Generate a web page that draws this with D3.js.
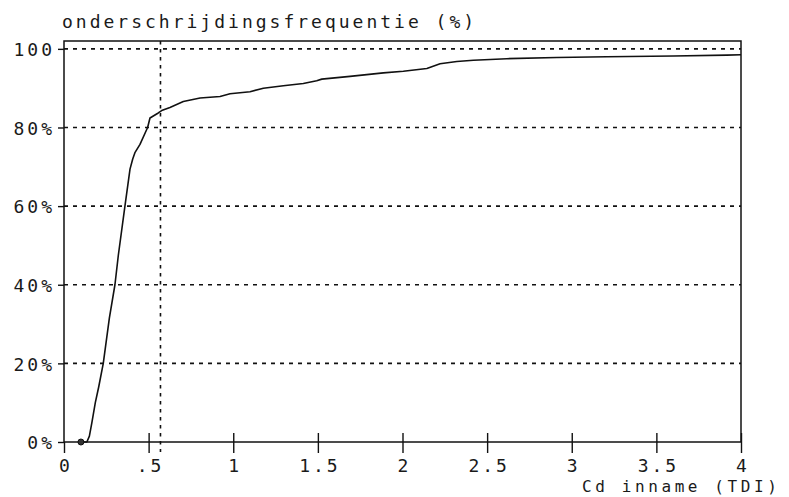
<!DOCTYPE html>
<html>
<head>
<meta charset="utf-8">
<script src="https://cdn.jsdelivr.net/npm/d3@7"></script>
<style>
  html, body { margin: 0; padding: 0; background: #fff; }
  svg { display: block; }
  text { font-family: "DejaVu Sans Mono", "Liberation Mono", monospace; fill: #1a1a1a; }
</style>
</head>
<body>
<svg id="chart" width="789" height="497"></svg>
<script>
// ---- data ----
const cdIntake = [0.10, 0.135, 0.15, 0.165, 0.185, 0.205, 0.232, 0.268, 0.301, 0.321, 0.360, 0.390, 0.406, 0.419, 0.449, 0.494, 0.508, 0.557, 0.577, 0.626, 0.705, 0.804, 0.922, 0.981, 1.099, 1.178, 1.296, 1.414, 1.493, 1.523, 1.690, 1.887, 2.005, 2.144, 2.222, 2.321, 2.419, 2.616, 2.912, 3.207, 3.601, 3.917, 4.0];
const exceedancePct = [0, 0, 1.5, 5, 10, 14, 20, 31.5, 40, 47.5, 60, 69.4, 72, 73.6, 75.7, 80, 82.4, 83.7, 84.3, 85.1, 86.6, 87.5, 87.9, 88.6, 89.1, 90.0, 90.6, 91.2, 91.9, 92.3, 93.0, 93.9, 94.3, 95.0, 96.2, 96.8, 97.1, 97.5, 97.8, 98.0, 98.2, 98.4, 98.5];
const startPoint = [0.10, 0];
const markerX = [0.57];
const xTickValues = [0, 0.5, 1, 1.5, 2, 2.5, 3, 3.5, 4];
const xTickLabels = ["0", ".5", "1", "1.5", "2", "2.5", "3", "3.5", "4"];
const yTickValues = [0, 20, 40, 60, 80, 100];
const yTickLabels = ["0%", "20%", "40%", "60%", "80%", "100"];
const gridValues = [20, 40, 60, 80, 100];
const titleText = "onderschrijdingsfrequentie (%)";
const xAxisTitle = "Cd inname (TDI)";

// ---- layout ----
const LS = 3.0; // letter spacing
const FS = 18;
const svg = d3.select("#chart");
const pLeft = 64, pRight = 741, pTop = 41, pBottom = 442;

const x = d3.scaleLinear().domain([0, 4]).range([pLeft, pRight]);
const y = d3.scaleLinear().domain([0, 102]).range([pBottom, pTop]);

// gridlines
svg.append("g").selectAll("line").data(gridValues).join("line")
  .attr("x1", pLeft).attr("x2", pRight)
  .attr("y1", d => y(d)).attr("y2", d => y(d))
  .attr("stroke", "#111").attr("stroke-width", 1.6)
  .attr("stroke-dasharray", "4,5");

// vertical marker line
svg.append("g").selectAll("line").data(markerX).join("line")
  .attr("x1", d => x(d)).attr("x2", d => x(d))
  .attr("y1", pTop).attr("y2", pBottom + 10)
  .attr("stroke", "#111").attr("stroke-width", 1.6)
  .attr("stroke-dasharray", "3.5,4.5");

// frame
svg.append("rect")
  .attr("x", pLeft).attr("y", pTop)
  .attr("width", pRight - pLeft).attr("height", pBottom - pTop)
  .attr("fill", "none").attr("stroke", "#111").attr("stroke-width", 1.5);

// x axis
const xAxis = svg.append("g")
  .attr("transform", `translate(0,${pBottom})`)
  .call(d3.axisBottom(x).tickValues(xTickValues)
    .tickFormat((d, i) => xTickLabels[i]).tickSize(11).tickPadding(21));
xAxis.select(".domain").remove();
xAxis.selectAll(".tick line")
  .attr("y1", (d, i) => i === 0 ? 0 : -9).attr("y2", 11)
  .attr("stroke", "#111").attr("stroke-width", 1.4);
xAxis.selectAll(".tick text")
  .attr("font-size", FS).attr("letter-spacing", LS)
  .attr("dx", LS / 2).attr("dy", "0").attr("y", 30)
  .style("font-family", "DejaVu Sans Mono").attr("fill", "#1a1a1a");

// y axis
const yAxis = svg.append("g")
  .attr("transform", `translate(${pLeft},0)`)
  .call(d3.axisLeft(y).tickValues(yTickValues)
    .tickFormat((d, i) => yTickLabels[i]).tickSize(6).tickPadding(6));
yAxis.select(".domain").remove();
yAxis.selectAll(".tick line").attr("stroke", "#111").attr("stroke-width", 1.4);
yAxis.selectAll(".tick text")
  .attr("font-size", FS).attr("letter-spacing", LS)
  .attr("dx", LS).attr("dy", "0.38em")
  .style("font-family", "DejaVu Sans Mono").attr("fill", "#1a1a1a");

// curve
const line = d3.line().x(d => x(d[0])).y(d => y(d[1]));
svg.append("path")
  .datum(cdIntake.map((v, i) => [v, exceedancePct[i]]))
  .attr("d", line)
  .attr("fill", "none").attr("stroke", "#111").attr("stroke-width", 1.6)
  .attr("stroke-linejoin", "round");

// start marker
svg.append("circle")
  .attr("cx", x(startPoint[0])).attr("cy", y(startPoint[1]))
  .attr("r", 3).attr("fill", "#333").attr("stroke", "#111");

// titles
svg.append("text")
  .attr("x", 62).attr("y", 28)
  .attr("font-size", FS).attr("letter-spacing", LS)
  .text(titleText);

svg.append("text")
  .attr("x", 582).attr("y", 492)
  .attr("font-size", 16).attr("letter-spacing", 3.6)
  .text(xAxisTitle);
</script>
</body>
</html>
